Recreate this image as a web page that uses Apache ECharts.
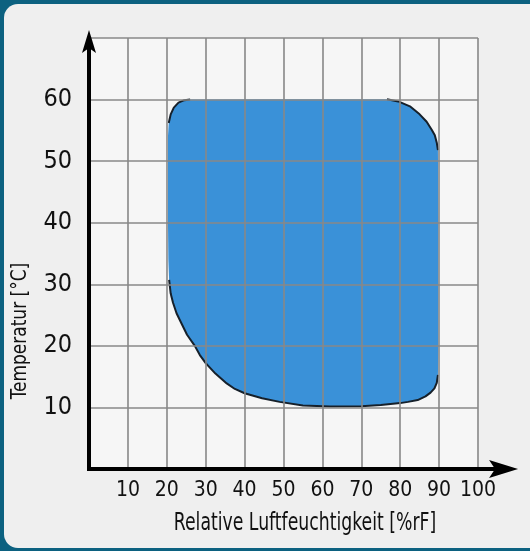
<!DOCTYPE html>
<html><head><meta charset="utf-8">
<script src="https://cdn.jsdelivr.net/npm/echarts@6/dist/echarts.min.js"></script>
<style>
html,body{margin:0;padding:0;width:530px;height:551px;overflow:hidden;background:#0c6180;}
#panel{position:absolute;left:4px;top:4px;width:560px;height:544px;border-radius:14px;background:#efefef;}
#chart{position:absolute;left:0;top:0;width:530px;height:551px;}
</style></head><body>
<div id="panel"></div><div id="chart"></div>
<script>
// Tick labels
const xTickLabels = [10, 20, 30, 40, 50, 60, 70, 80, 90, 100];
const yTickLabels = [10, 20, 30, 40, 50, 60];
// Boundary of the climate zone (clockwise)
const zoneHumidity = [
  20.3, 20.3, 20.5, 21.0, 21.8, 23.0, 24.5, 26.0,
  50, 76.6,
  79.5, 82.5, 85.0, 86.8, 88.1, 88.9, 89.4, 89.7,
  89.8, 89.8,
  89.7, 89.4, 88.8, 87.8, 86.5, 84.5, 82.0, 80.0,
  75, 70, 62, 55,
  49, 44.5, 40, 37.5, 35.4, 32.5, 30, 28.5, 27.2, 25.2, 23.5, 22.5, 21.6, 21.0, 20.6, 20.4, 20.3
];
const zoneTemperature = [
  50, 54, 56.2, 57.6, 58.7, 59.5, 59.9, 60,
  60.05, 60.05,
  59.7, 58.9, 57.6, 56.4, 55.1, 54.2, 53.0, 51.8,
  40, 20,
  15.3, 14.0, 13.1, 12.4, 11.8, 11.2, 10.9, 10.7,
  10.4, 10.2, 10.15, 10.3,
  10.9, 11.5, 12.3, 13.0, 13.9, 15.5, 17.2, 18.5, 20, 21.8, 24.0, 25.3, 27.0, 28.5, 30.7, 34, 40
];
const outlineRanges = [[2, 7], [9, 17], [20, 46]];

const FONT = '"DejaVu Sans Condensed", "DejaVu Sans", sans-serif';
const chart = echarts.init(document.getElementById('chart'), null, {renderer: 'canvas'});

const gridLine = {show: true, lineStyle: {color: '#888888', width: 1.6}};
chart.setOption({
  backgroundColor: 'transparent',
  animation: false,
  grid: {left: 89, right: 52, top: 38, bottom: 82, show: true, backgroundColor: '#f6f6f6', borderWidth: 0},
  xAxis: {
    type: 'value', min: 0, max: 100, interval: 10, z: 5,
    axisLine: {show: false}, axisTick: {show: false},
    splitLine: gridLine,
    axisLabel: {
      formatter: v => xTickLabels.includes(v) ? String(v) : '',
      fontSize: 21, fontFamily: FONT, color: '#111', margin: 11
    }
  },
  yAxis: {
    type: 'value', min: 0, max: 70, interval: 10, z: 5,
    axisLine: {show: false}, axisTick: {show: false},
    splitLine: gridLine,
    axisLabel: {
      formatter: v => yTickLabels.includes(v) ? String(v) : '',
      fontSize: 25, fontFamily: FONT, color: '#111', margin: 17
    }
  },
  series: [{
    type: 'custom',
    coordinateSystem: 'cartesian2d',
    z: 1,
    silent: true,
    data: [[50, 35]],
    renderItem: function (params, api) {
      const pts = zoneHumidity.map((h, i) => api.coord([h, zoneTemperature[i]]));
      const children = [{type: 'polygon', shape: {points: pts}, style: {fill: '#3a91d8'}}];
      outlineRanges.forEach(([a, b]) => {
        children.push({type: 'polyline', shape: {points: pts.slice(a, b + 1)},
          style: {stroke: '#16202a', lineWidth: 2, fill: null, lineJoin: 'round'}});
      });
      return {type: 'group', children: children};
    }
  }]
});

const O = chart.convertToPixel({gridIndex: 0}, [0, 0]);
const XE = chart.convertToPixel({gridIndex: 0}, [110.3, 0]);
const YE = chart.convertToPixel({gridIndex: 0}, [0, 71.3]);
chart.setOption({
  graphic: [
    {type: 'line', z: 100, shape: {x1: O[0], y1: O[1], x2: XE[0] - 22, y2: O[1]}, style: {stroke: '#000', lineWidth: 4}},
    {type: 'polygon', z: 100, shape: {points: [[XE[0], O[1]], [XE[0] - 29, O[1] - 9], [XE[0] - 23, O[1]], [XE[0] - 29, O[1] + 9]]}, style: {fill: '#000'}},
    {type: 'line', z: 100, shape: {x1: O[0], y1: O[1] + 2, x2: O[0], y2: YE[1] + 16}, style: {stroke: '#000', lineWidth: 4}},
    {type: 'polygon', z: 100, shape: {points: [[O[0], YE[1]], [O[0] - 7, YE[1] + 23], [O[0], YE[1] + 18], [O[0] + 7, YE[1] + 23]]}, style: {fill: '#000'}},
    {type: 'text', z: 100, x: 305, y: 524, scaleX: 0.8, style: {text: 'Relative Luftfeuchtigkeit [%rF]', font: '24px ' + FONT, fill: '#111', textAlign: 'center', textVerticalAlign: 'middle'}},
    {type: 'text', z: 100, x: 21, y: 331, rotation: Math.PI / 2, scaleX: 0.9, style: {text: 'Temperatur [°C]', font: '21px ' + FONT, fill: '#111', textAlign: 'center', textVerticalAlign: 'middle'}}
  ]
});
</script>
</body></html>
